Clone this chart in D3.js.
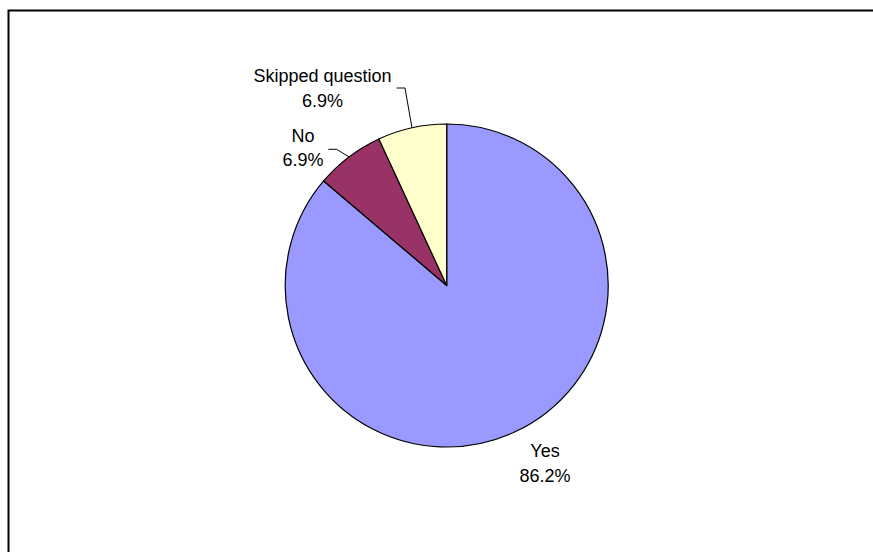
<!DOCTYPE html>
<html>
<head>
<meta charset="utf-8">
<script src="https://cdn.jsdelivr.net/npm/d3@7"></script>
<style>
  html, body { margin: 0; padding: 0; background: #fff; }
  svg { display: block; }
  text { font-family: "Liberation Sans", Arial, sans-serif; font-size: 18px; fill: #000; }
</style>
</head>
<body>
<svg id="chart" width="873" height="552"></svg>
<script>
// Data
const categories = ["Yes", "No", "Skipped question"];
const counts = [25, 2, 2];
const colors = ["#9999FF", "#993366", "#FFFFCC"];

const svg = d3.select("#chart");

// Chart frame (extends past the right/bottom edge as in the reference)
svg.append("rect")
  .attr("x", 8.5).attr("y", 10.5)
  .attr("width", 900).attr("height", 600)
  .attr("fill", "#fff")
  .attr("stroke", "#000")
  .attr("stroke-width", 2);

const cx = 446.7, cy = 285.5, R = 161.5;
const total = d3.sum(counts);
const pie = d3.pie().sort(null).value(d => d)(counts);
const arc = d3.arc().innerRadius(0).outerRadius(R);

const g = svg.append("g").attr("transform", `translate(${cx},${cy})`);
g.selectAll("path.slice")
  .data(pie)
  .join("path")
  .attr("class", "slice")
  .attr("d", arc)
  .attr("fill", (d, i) => colors[i])
  .attr("stroke", "#000")
  .attr("stroke-width", 1.2)
  .attr("stroke-linejoin", "round");

// Label layout: centre x and first baseline, relative to the pie centre
const labelLayout = [
  { x: 98.3, y: 171.8, leader: null },                               // Yes
  { x: -143.7, y: -143.8, leader: [[-110, -136.2], [-118.4, -136.2]] }, // No
  { x: -124.2, y: -203.5, leader: [[-41.7, -197.5], [-50, -197.5]] }    // Skipped
];

const fmt = v => (v / total * 100).toFixed(1) + "%";

pie.forEach((d, i) => {
  const L = labelLayout[i];
  const mid = (d.startAngle + d.endAngle) / 2;
  if (L.leader) {
    const p0 = [R * Math.sin(mid), -R * Math.cos(mid)];
    g.append("path")
      .attr("d", d3.line()([p0].concat(L.leader)))
      .attr("fill", "none")
      .attr("stroke", "#000")
      .attr("stroke-width", 1);
  }
  const t = g.append("text").attr("text-anchor", "middle");
  t.append("tspan").attr("x", L.x).attr("y", L.y).text(categories[i]);
  t.append("tspan").attr("x", L.x).attr("dy", 24.5).text(fmt(counts[i]));
});
</script>
</body>
</html>
